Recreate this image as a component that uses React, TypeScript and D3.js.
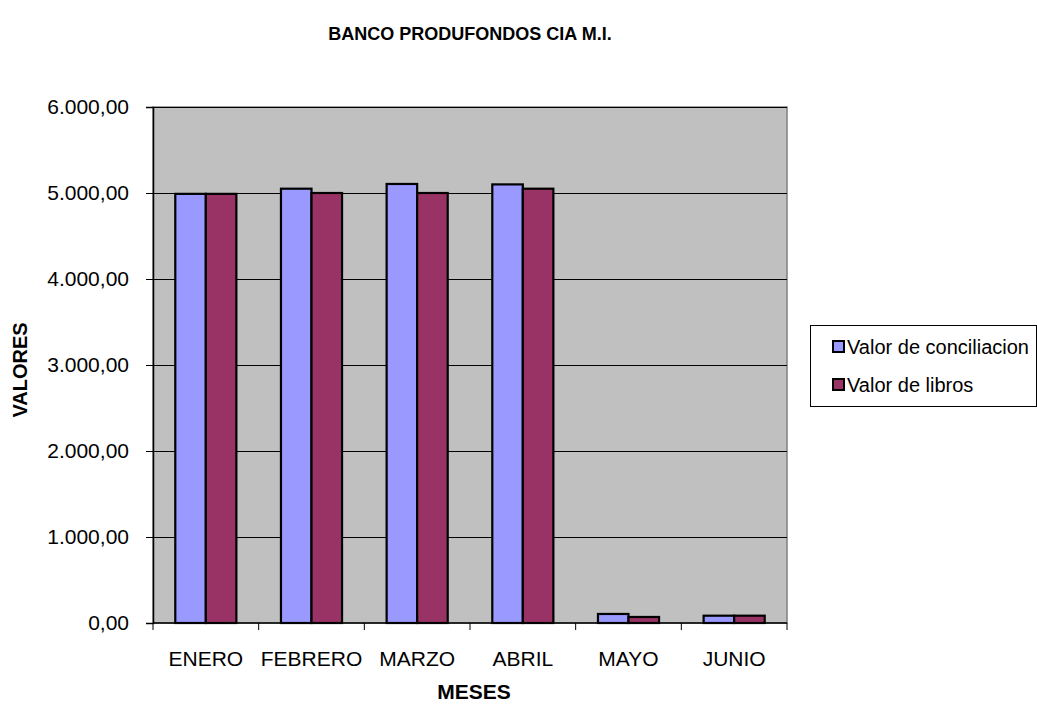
import React, { useEffect, useRef } from 'react';
import * as d3 from 'd3';

const months = ['ENERO', 'FEBRERO', 'MARZO', 'ABRIL', 'MAYO', 'JUNIO'];
const conciliacion = [4990, 5050, 5105, 5100, 105, 85];
const libros = [4990, 5000, 5000, 5050, 70, 85];
const seriesNames = ['Valor de conciliacion', 'Valor de libros'];
const seriesColors = ['#9999FF', '#993366'];
const yTicks = [0, 1000, 2000, 3000, 4000, 5000, 6000];

const fmt = (v: number) => {
  const s = d3.format(',.2f')(v);
  // 6,000.00 -> 6.000,00
  return s.replace(/,/g, '#').replace('.', ',').replace(/#/g, '.');
};

function App() {
  const chartRef = useRef<SVGSVGElement>(null);

  useEffect(() => {
    const svg = d3.select(chartRef.current);
    svg.selectAll('*').remove();

    const width = 1037, height = 704;
    const plot = { left: 153, right: 787, top: 107, bottom: 623 };
    const font = 'Liberation Sans, Arial, sans-serif';

    svg.attr('width', width).attr('height', height);

    const x = d3.scaleBand().domain(months).range([plot.left, plot.right]).padding(0);
    const x1 = d3.scaleBand().domain(['c', 'l']).range([0, x.bandwidth()]).paddingInner(0).paddingOuter(0.73);
    const y = d3.scaleLinear().domain([0, 6000]).range([plot.bottom, plot.top]);

    // plot background
    svg.append('rect')
      .attr('x', plot.left).attr('y', plot.top)
      .attr('width', plot.right - plot.left).attr('height', plot.bottom - plot.top)
      .attr('fill', '#C0C0C0')
      .attr('stroke', '#808080').attr('stroke-width', 1.5);

    // gridlines
    svg.append('g')
      .selectAll('line')
      .data(yTicks.filter(d => d > 0))
      .enter()
      .append('line')
      .attr('x1', plot.left).attr('x2', plot.right)
      .attr('y1', d => Math.round(y(d)) + 0.5).attr('y2', d => Math.round(y(d)) + 0.5)
      .attr('stroke', '#000').attr('stroke-width', 1);

    // bars
    const data = months.map((m, i) => ({ m, vals: [conciliacion[i], libros[i]] }));
    const groups = svg.append('g')
      .selectAll('g')
      .data(data)
      .enter()
      .append('g')
      .attr('transform', d => `translate(${x(d.m)},0)`);

    groups.selectAll('rect')
      .data(d => d.vals.map((v, k) => ({ v, k })))
      .enter()
      .append('rect')
      .attr('x', d => x1(d.k === 0 ? 'c' : 'l'))
      .attr('y', d => y(d.v))
      .attr('width', x1.bandwidth())
      .attr('height', d => y(0) - y(d.v))
      .attr('fill', d => seriesColors[d.k])
      .attr('stroke', '#000').attr('stroke-width', 2.2);

    // y axis
    const yAxis = svg.append('g')
      .attr('transform', `translate(${plot.left},0)`)
      .call(d3.axisLeft(y).tickValues(yTicks).tickFormat(d => fmt(d as number)).tickSize(7).tickPadding(17));
    yAxis.select('.domain').attr('stroke', '#000').attr('stroke-width', 1.5);
    yAxis.selectAll('line').attr('stroke', '#000');
    yAxis.selectAll('text').attr('font-family', font).attr('font-size', 21).attr('fill', '#000');

    // x axis
    const xAxis = svg.append('g').attr('transform', `translate(0,${plot.bottom})`);
    xAxis.append('line')
      .attr('x1', plot.left).attr('x2', plot.right)
      .attr('y1', 0).attr('y2', 0)
      .attr('stroke', '#000').attr('stroke-width', 1.5);
    const edges = months.map(m => x(m) as number).concat([plot.right]);
    xAxis.selectAll('.tk')
      .data(edges)
      .enter()
      .append('line')
      .attr('x1', d => d).attr('x2', d => d)
      .attr('y1', 0).attr('y2', 7)
      .attr('stroke', '#000');
    xAxis.selectAll('.lbl')
      .data(months)
      .enter()
      .append('text')
      .attr('x', d => (x(d) as number) + x.bandwidth() / 2)
      .attr('y', 43)
      .attr('text-anchor', 'middle')
      .attr('font-family', font).attr('font-size', 21)
      .text(d => d);

    // titles
    svg.append('text')
      .attr('x', 470).attr('y', 40)
      .attr('text-anchor', 'middle')
      .attr('font-family', font).attr('font-size', 18).attr('font-weight', 'bold')
      .text('BANCO PRODUFONDOS CIA M.I.');

    svg.append('text')
      .attr('x', 474).attr('y', 699)
      .attr('text-anchor', 'middle')
      .attr('font-family', font).attr('font-size', 21).attr('font-weight', 'bold')
      .text('MESES');

    svg.append('text')
      .attr('transform', 'rotate(-90)')
      .attr('x', -370).attr('y', 27)
      .attr('text-anchor', 'middle')
      .attr('font-family', font).attr('font-size', 20).attr('font-weight', 'bold')
      .text('VALORES');

    // legend
    const legend = svg.append('g');
    legend.append('rect')
      .attr('x', 810.5).attr('y', 325.5)
      .attr('width', 226).attr('height', 81)
      .attr('fill', '#fff').attr('stroke', '#000');
    seriesNames.forEach((name, i) => {
      const cy = 347 + i * 38;
      legend.append('rect')
        .attr('x', 833).attr('y', cy - 6)
        .attr('width', 11).attr('height', 11)
        .attr('fill', seriesColors[i]).attr('stroke', '#000').attr('stroke-width', 2);
      legend.append('text')
        .attr('x', 847).attr('y', cy + 7)
        .attr('font-family', font).attr('font-size', 20)
        .text(name);
    });
  }, []);

  return (
    <svg ref={chartRef} style={{ position: 'absolute', left: 0, top: 0, display: 'block' }}></svg>
  );
}

export default App;
